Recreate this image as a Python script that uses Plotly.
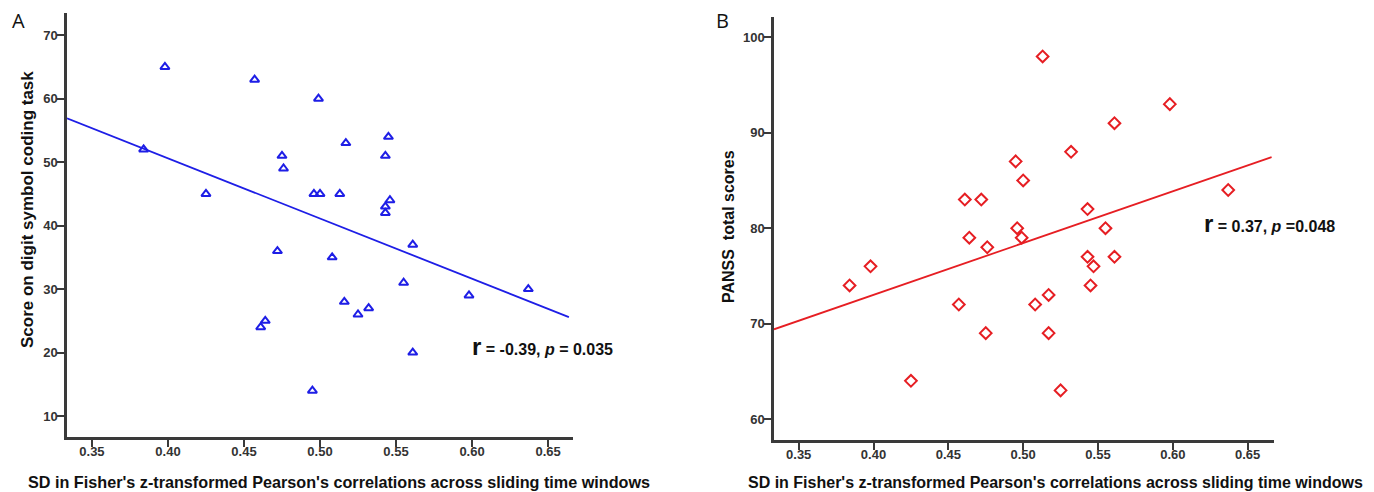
import plotly.graph_objects as go

# ---------------- Data ----------------
# Panel A: SD vs digit symbol coding score
a_x = [0.398, 0.457, 0.499, 0.384, 0.475, 0.476, 0.425, 0.496, 0.500, 0.513,
       0.517, 0.545, 0.543, 0.546, 0.543, 0.543, 0.561, 0.472, 0.508, 0.516,
       0.464, 0.461, 0.495, 0.555, 0.598, 0.637, 0.525, 0.532, 0.561]
a_y = [65, 63, 60, 52, 51, 49, 45, 45, 45, 45,
       53, 54, 51, 44, 43, 42, 37, 36, 35, 28,
       25, 24, 14, 31, 29, 30, 26, 27, 20]
a_fit_x = [0.3336, 0.6637]
a_fit_y = [56.9, 25.6]

# Panel B: SD vs PANSS total scores
b_x = [0.513, 0.495, 0.500, 0.461, 0.472, 0.496, 0.464, 0.499, 0.476, 0.598,
       0.561, 0.532, 0.637, 0.543, 0.555, 0.398, 0.384, 0.457, 0.508, 0.475,
       0.425, 0.543, 0.561, 0.547, 0.545, 0.517, 0.517, 0.525]
b_y = [98, 87, 85, 83, 83, 80, 79, 79, 78, 93,
       91, 88, 84, 82, 80, 76, 74, 72, 72, 69,
       64, 77, 77, 76, 74, 73, 69, 63]
b_fit_x = [0.3335, 0.666]
b_fit_y = [69.4, 87.45]

x_ticks = [0.35, 0.40, 0.45, 0.50, 0.55, 0.60, 0.65]
x_tick_labels = ["0.35", "0.40", "0.45", "0.50", "0.55", "0.60", "0.65"]
a_y_ticks = [10, 20, 30, 40, 50, 60, 70]
b_y_ticks = [60, 70, 80, 90, 100]

x_title = "SD in Fisher's z-transformed Pearson's correlations across sliding time windows"
a_y_title = "Score on digit symbol coding task"
b_y_title = "PANSS\u00a0 total scores"
a_stat = "<span style='font-size:24px'>r</span> = -0.39, <i>p</i> = 0.035"
b_stat = "<span style='font-size:24px'>r</span> = 0.37, <i>p</i> =0.048"

BLUE = "#1e1ee6"
RED = "#e61e23"
AXC = "#3a3a3a"

# page body has an 8px margin: figure is 8px smaller and shifted
OFF = 8
W, H = 1374 - OFF, 492 - OFF


def px(x):
    return (x - OFF) / W


def py(y):
    return (H - (y - OFF)) / H


fig = go.Figure()
fig.add_trace(go.Scatter(x=a_x, y=a_y, mode="markers", xaxis="x", yaxis="y",
                         marker=dict(symbol="triangle-up-open", size=8, color=BLUE,
                                     line=dict(width=2, color=BLUE)),
                         showlegend=False))
fig.add_trace(go.Scatter(x=a_fit_x, y=a_fit_y, mode="lines", xaxis="x", yaxis="y",
                         line=dict(color=BLUE, width=1.8), showlegend=False))
fig.add_trace(go.Scatter(x=b_x, y=b_y, mode="markers", xaxis="x2", yaxis="y2",
                         marker=dict(symbol="diamond-open", size=9, color=RED,
                                     line=dict(width=2, color=RED)),
                         showlegend=False))
fig.add_trace(go.Scatter(x=b_fit_x, y=b_fit_y, mode="lines", xaxis="x2", yaxis="y2",
                         line=dict(color=RED, width=1.8), showlegend=False))

tickfont = dict(family="Liberation Sans", size=13, color="#333333", weight="bold")
common = dict(showgrid=False, zeroline=False, showline=True, linecolor=AXC, linewidth=2.5,
              ticks="outside", ticklen=7, tickwidth=1.5, tickcolor=AXC, tickfont=tickfont,
              mirror=False)
xcommon = dict(common, ticklabelstandoff=-6)
ycommon = dict(common, ticklabelstandoff=-3)

fig.update_layout(
    width=W, height=H, autosize=False,
    margin=dict(l=0, r=0, t=0, b=0),
    paper_bgcolor="white", plot_bgcolor="white",
    xaxis=dict(domain=[px(67), px(573)], range=[0.3336, 0.6664], anchor="y",
               tickvals=x_ticks, ticktext=x_tick_labels, **xcommon),
    yaxis=dict(domain=[py(437), py(13)], range=[6.7, 73.5], anchor="x",
               tickvals=a_y_ticks, **ycommon),
    xaxis2=dict(domain=[px(774), px(1274)], range=[0.3335, 0.6676], anchor="y2",
                tickvals=x_ticks, ticktext=x_tick_labels, **xcommon),
    yaxis2=dict(domain=[py(440), py(17.3)], range=[57.8, 102.1], anchor="x2",
                tickvals=b_y_ticks, **ycommon),
)

title_font = dict(family="Liberation Sans", size=16.2, color="#111111", weight="bold")
title_font_b = dict(family="Liberation Sans", size=16, color="#111111", weight="bold")
ytitle_font = dict(family="Liberation Sans", size=17, color="#111111", weight="bold")
ytitle_font_b = dict(family="Liberation Sans", size=16, color="#111111", weight="bold")
stat_font = dict(family="Liberation Sans", size=16, color="#111111", weight="bold")
ann = [
    dict(text=x_title, x=px(339), y=py(482), xref="paper", yref="paper",
         showarrow=False, font=title_font, xanchor="center", yanchor="middle"),
    dict(text=x_title, x=px(1055), y=py(482), xref="paper", yref="paper",
         showarrow=False, font=title_font_b, xanchor="center", yanchor="middle"),
    dict(text=a_y_title, x=px(27), y=py(210), xref="paper", yref="paper",
         showarrow=False, font=ytitle_font, textangle=-90, xanchor="center", yanchor="middle"),
    dict(text=b_y_title, x=px(728), y=py(227), xref="paper", yref="paper",
         showarrow=False, font=ytitle_font_b, textangle=-90, xanchor="center", yanchor="middle"),
    dict(text=a_stat, x=0.5987, y=21.0, xref="x", yref="y", showarrow=False,
         font=stat_font, xanchor="left", yanchor="middle"),
    dict(text=b_stat, x=0.6194, y=80.45, xref="x2", yref="y2", showarrow=False,
         font=stat_font, xanchor="left", yanchor="middle"),
    dict(text="A", x=px(18), y=py(21), xref="paper", yref="paper", showarrow=False,
         font=dict(family="Open Sans", size=20, color="#111111"), xanchor="center", yanchor="middle"),
    dict(text="B", x=px(722.7), y=py(21), xref="paper", yref="paper", showarrow=False,
         font=dict(family="Open Sans", size=20, color="#111111"), xanchor="center", yanchor="middle"),
]
fig.update_layout(annotations=ann)

fig.write_html("out.html")
